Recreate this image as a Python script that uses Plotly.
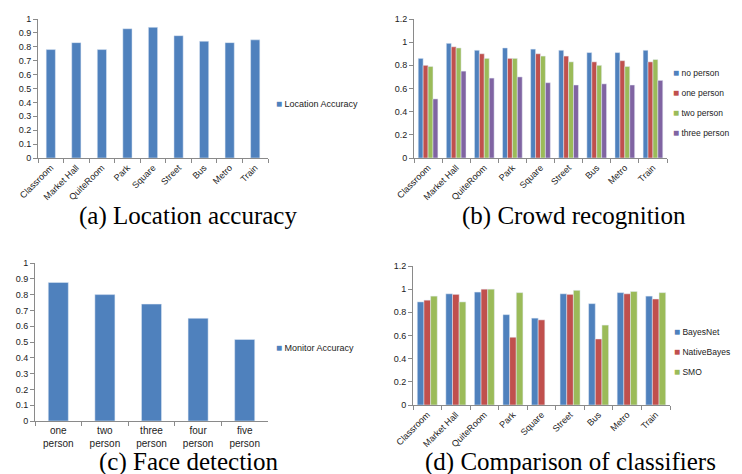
import plotly.graph_objects as go

W, H = 742, 474

locations = ["Classroom", "Market Hall", "QuiteRoom", "Park", "Square", "Street", "Bus", "Metro", "Train"]

# (a) Location accuracy
location_accuracy = [0.78, 0.83, 0.78, 0.93, 0.94, 0.88, 0.84, 0.83, 0.85]

# (b) Crowd recognition
crowd_series = ["no person", "one person", "two person", "three person"]
no_person = [0.86, 0.99, 0.93, 0.95, 0.94, 0.93, 0.91, 0.91, 0.93]
one_person = [0.80, 0.96, 0.90, 0.86, 0.90, 0.88, 0.83, 0.84, 0.83]
two_person = [0.79, 0.95, 0.86, 0.86, 0.88, 0.83, 0.80, 0.79, 0.85]
three_person = [0.51, 0.75, 0.69, 0.70, 0.65, 0.63, 0.64, 0.63, 0.67]

# (c) Face detection
face_categories = ["one<br>person", "two<br>person", "three<br>person", "four<br>person", "five<br>person"]
monitor_accuracy = [0.877, 0.80, 0.74, 0.65, 0.516]

# (d) Comparison of classifiers
classifier_series = ["BayesNet", "NativeBayes", "SMO"]
bayes_net = [0.89, 0.96, 0.975, 0.78, 0.75, 0.96, 0.875, 0.97, 0.94]
native_bayes = [0.905, 0.955, 1.0, 0.585, 0.735, 0.955, 0.57, 0.96, 0.915]
smo = [0.94, 0.89, 1.0, 0.97, None, 0.99, 0.69, 0.98, 0.97]

captions = ["(a) Location accuracy", "(b) Crowd recognition", "(c) Face detection", "(d) Comparison of classifiers"]

BLUE, RED, GREEN, PURPLE = "#4F81BD", "#C0504D", "#9BBB59", "#8064A2"


def px(x):
    return x / W


def py(y):
    return 1 - y / H


fig = go.Figure()


def legend_item(name, color, xa, ya, leg):
    # legend entry: coloured square drawn as a glyph right before the label
    label = f'<span style="color:{color};font-size:10px">\u25A0</span> {name}'
    fig.add_trace(go.Scatter(x=[None], y=[None], mode="markers", name=label,
                             marker=dict(symbol="square", size=7, color="rgba(0,0,0,0)"),
                             xaxis=xa, yaxis=ya, legend=leg, legendgroup=name,
                             showlegend=True, hoverinfo="skip"))


# (a)
fig.add_trace(go.Bar(x=locations, y=location_accuracy, name="Location Accuracy", width=0.36,
                     marker_color=BLUE, xaxis="x", yaxis="y", showlegend=False))
legend_item("Location Accuracy", BLUE, "x", "y", "legend")

# (b)
for name, vals, col in zip(crowd_series, [no_person, one_person, two_person, three_person],
                           [BLUE, RED, GREEN, PURPLE]):
    fig.add_trace(go.Bar(x=locations, y=vals, name=name, marker_color=col,
                         xaxis="x2", yaxis="y2", showlegend=False))
for name, col in zip(crowd_series, [BLUE, RED, GREEN, PURPLE]):
    legend_item(name, col, "x2", "y2", "legend2")

# (c)
fig.add_trace(go.Bar(x=face_categories, y=monitor_accuracy, name="Monitor Accuracy", width=0.43,
                     marker_color=BLUE, xaxis="x3", yaxis="y3", showlegend=False))
legend_item("Monitor Accuracy", BLUE, "x3", "y3", "legend3")

# (d)
for name, vals, col in zip(classifier_series, [bayes_net, native_bayes, smo], [BLUE, RED, GREEN]):
    fig.add_trace(go.Bar(x=locations, y=vals, name=name, marker_color=col,
                         xaxis="x4", yaxis="y4", showlegend=False))
for name, col in zip(classifier_series, [BLUE, RED, GREEN]):
    legend_item(name, col, "x4", "y4", "legend4")

tickfont = dict(family="Liberation Sans, Arial, sans-serif", size=9, color="#222")
axcommon = dict(showline=True, linecolor="#8a8a8a", linewidth=1, showgrid=False,
                zeroline=False, ticks="outside", ticklen=4, tickcolor="#8a8a8a",
                tickfont=tickfont, fixedrange=True, automargin=False)

panels = {
    "": dict(x0=30, x1=260, ytop=11, ybot=150, rng=[0, 1], dt=0.1, rot=-45),
    "2": dict(x0=406, x1=659, ytop=11, ybot=150, rng=[0, 1.2], dt=0.2, rot=-45),
    "3": dict(x0=27, x1=260, ytop=255, ybot=413, rng=[0, 1], dt=0.1, rot=0),
    "4": dict(x0=405, x1=662, ytop=258, ybot=397, rng=[0, 1.2], dt=0.2, rot=-45),
}
layout = {}
for k, p in panels.items():
    layout["xaxis" + k] = dict(axcommon, domain=[px(p["x0"]), px(p["x1"])],
                               anchor="y" + k, tickson="boundaries", tickangle=p["rot"])
    layout["yaxis" + k] = dict(axcommon, domain=[py(p["ybot"]), py(p["ytop"])],
                               anchor="x" + k, range=p["rng"], dtick=p["dt"], tick0=0)
layout["xaxis3"]["tickfont"] = dict(tickfont, size=10)

legfont = dict(family="Liberation Sans, Arial, sans-serif", size=9, color="#222")
legfont_s = dict(legfont, size=8.5)
legbase = dict(font=legfont, bgcolor="rgba(0,0,0,0)", xanchor="left", yanchor="middle",
               itemwidth=30, tracegroupgap=1)
layout["legend"] = dict(legbase, x=px(228), y=py(95))
layout["legend2"] = dict(legbase, font=legfont_s, x=px(625), y=py(95))
layout["legend3"] = dict(legbase, x=px(228), y=py(339))
layout["legend4"] = dict(legbase, font=legfont_s, x=px(626), y=py(344))

annotations = []
for text, (cx, cy) in zip(captions, [(180, 208), (566, 208), (181, 454), (562, 454)]):
    annotations.append(dict(text=text, x=px(cx), y=py(cy), xref="paper", yref="paper",
                            showarrow=False, xanchor="center", yanchor="middle",
                            font=dict(family="Liberation Serif, Times New Roman, serif", size=25, color="#000")))

fig.update_layout(width=W, height=H, margin=dict(l=0, r=0, t=0, b=0, autoexpand=False),
                  paper_bgcolor="white", plot_bgcolor="white",
                  barmode="group", bargap=0.3, showlegend=True,
                  annotations=annotations, **layout)

fig.write_html("out.html")
